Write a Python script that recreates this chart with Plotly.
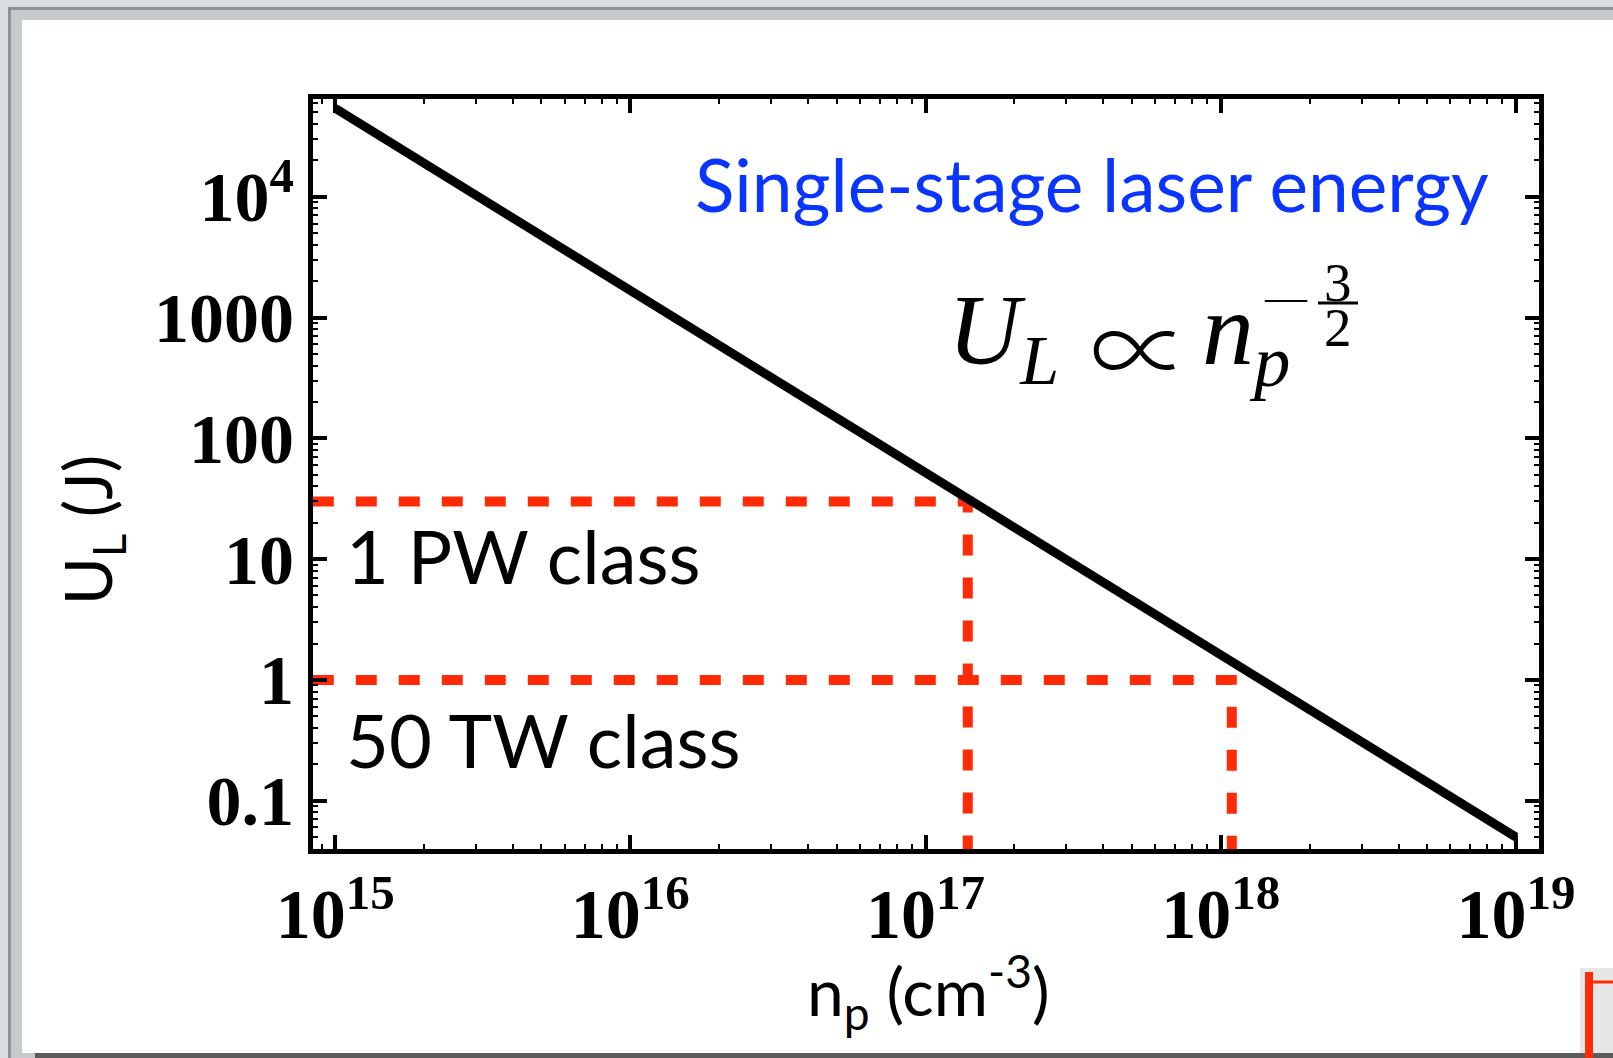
import plotly.graph_objects as go

# ---------------- data ----------------
n_p = [1e15, 1e19]                 # plasma density (cm^-3)
U_L = [5.4e4, 0.05]                # single-stage laser energy (J)

pw_x = [8.4e14, 1.39e17, 1.39e17]  # 1 PW class guide (30 J)
pw_y = [30, 30, 0.039]
tw_x = [8.4e14, 1.09e18, 1.09e18]  # 50 TW class guide (1 J)
tw_y = [1, 1, 0.039]

x_tickvals = [1e15, 1e16, 1e17, 1e18, 1e19]
x_ticktext = ["10<sup>15</sup>", "10<sup>16</sup>", "10<sup>17</sup>", "10<sup>18</sup>", "10<sup>19</sup>"]
y_tickvals = [0.1, 1, 10, 100, 1000, 1e4]
y_ticktext = ["0.1", "1", "10", "100", "1000", "10<sup>4</sup>"]

# ---------------- layout helpers ----------------
W, H = 1613, 1058
L, R, T, B = 313, 1539, 99, 849


def px(x):
    return (x - L) / (R - L)


def py(y):
    return (B - y) / (B - T)


minor_x = [float(m) * 10.0 ** e for e in range(14, 20) for m in range(2, 10)]
minor_y = [float(m) * 10.0 ** e for e in range(-2, 5) for m in range(2, 10)]

RED = "#ff2b06"

fig = go.Figure()
fig.add_trace(go.Scatter(x=pw_x, y=pw_y, mode="lines",
                         line=dict(color=RED, width=10, dash="21px,22px"),
                         hoverinfo="skip"))
fig.add_trace(go.Scatter(x=tw_x, y=tw_y, mode="lines",
                         line=dict(color=RED, width=10, dash="21px,22px"),
                         hoverinfo="skip"))
fig.add_trace(go.Scatter(x=n_p, y=U_L, mode="lines",
                         line=dict(color="black", width=9)))

axis_common = dict(
    showgrid=False, zeroline=False, showline=True, linewidth=5, linecolor="black",
    mirror="allticks", ticks="inside", ticklen=14, tickwidth=4, tickcolor="black",
    tickfont=dict(family="Liberation Serif", size=70, color="black", weight="bold"),
    tickmode="array",
)

fig.update_xaxes(type="log", range=[14.925, 19.078], tickvals=x_tickvals, ticktext=x_ticktext,
                 minor=dict(tickmode="array", tickvals=minor_x, ticks="inside", ticklen=5,
                            tickwidth=2, tickcolor="black", showgrid=False),
                 **axis_common)
fig.update_yaxes(type="log", range=[-1.400, 4.809], tickvals=y_tickvals, ticktext=y_ticktext,
                 minor=dict(tickmode="array", tickvals=minor_y, ticks="inside", ticklen=5,
                            tickwidth=2, tickcolor="black", showgrid=False),
                 **axis_common)

shapes = [
    # slide frame
    dict(type="rect", xref="paper", yref="paper", x0=px(8), x1=px(W + 5), y0=py(7), y1=py(H + 5),
         fillcolor="#8f9194", line=dict(width=0), layer="below"),
    dict(type="rect", xref="paper", yref="paper", x0=px(11), x1=px(W + 5), y0=py(10), y1=py(H + 5),
         fillcolor="#c7cacd", line=dict(width=0), layer="below"),
    dict(type="rect", xref="paper", yref="paper", x0=px(35), x1=px(W + 5), y0=py(1053), y1=py(H + 5),
         fillcolor="#5c5c5c", line=dict(width=0), layer="below"),
    dict(type="rect", xref="paper", yref="paper", x0=px(22), x1=px(W + 5), y0=py(20), y1=py(1053),
         fillcolor="white", line=dict(width=0), layer="below"),
    dict(type="rect", xref="paper", yref="paper", x0=px(1580), x1=px(W + 5), y0=py(968), y1=py(1053),
         fillcolor="#e6e6e6", line=dict(width=0), layer="below"),
    dict(type="line", xref="paper", yref="paper", x0=px(1589), x1=px(1589), y0=py(972), y1=py(H + 5),
         line=dict(color=RED, width=8)),
    dict(type="line", xref="paper", yref="paper", x0=px(1590), x1=px(W + 5), y0=py(982), y1=py(982),
         line=dict(color=RED, width=3)),
    # fraction bar of the exponent
    dict(type="line", xref="paper", yref="paper", x0=px(1318), x1=px(1358), y0=py(303), y1=py(303),
         line=dict(color="black", width=3)),
]

SANS = "Lato"
SERIF = "Liberation Serif"
annotations = [
    dict(text="Single-stage laser energy", x=px(1491), y=py(184), xanchor="right", yanchor="middle",
         font=dict(family=SANS, size=73, color="#0a34ff")),
    dict(text="1 PW class", x=px(344), y=py(555), xanchor="left", yanchor="middle",
         font=dict(family=SANS, size=74, color="black")),
    dict(text="50 TW class", x=px(344), y=py(739), xanchor="left", yanchor="middle",
         font=dict(family=SANS, size=74, color="black")),
    # U_L  ∝  n_p^(-3/2)
    dict(text="<i>U</i><sub><i>L</i></sub>", x=px(946), y=py(336),
         xanchor="left", yanchor="middle", font=dict(family=SERIF, size=100, color="black")),
    dict(text="∝", x=px(1140), y=py(344), xanchor="center", yanchor="middle",
         font=dict(family="Noto Sans CJK JP", size=100, color="black", weight=300)),
    dict(text="<i>n</i><sub><i>p</i></sub>", x=px(1200), y=py(336),
         xanchor="left", yanchor="middle", font=dict(family=SERIF, size=104, color="black")),
    dict(text="—", x=px(1286), y=py(297), xanchor="center", yanchor="middle",
         font=dict(family=SERIF, size=42, color="black")),
    dict(text="3", x=px(1338), y=py(282), xanchor="center", yanchor="middle",
         font=dict(family=SERIF, size=55, color="black")),
    dict(text="2", x=px(1338), y=py(327), xanchor="center", yanchor="middle",
         font=dict(family=SERIF, size=55, color="black")),
    # axis titles
    dict(text="U<sub>L</sub> (J)", x=px(92), y=py(530), xanchor="center", yanchor="middle",
         textangle=-90, font=dict(family=SANS, size=65, color="black")),
    dict(text="n<sub>p</sub> (cm<sup>-3</sup>)", x=px(928), y=py(991), xanchor="center", yanchor="middle",
         font=dict(family=SANS, size=66, color="black")),
]
for a in annotations:
    a.update(xref="paper", yref="paper", showarrow=False)

fig.update_layout(
    width=W, height=H,
    margin=dict(l=L, r=W - R, t=T, b=H - B, pad=0),
    paper_bgcolor="#dadde1", plot_bgcolor="white",
    showlegend=False,
    shapes=shapes, annotations=annotations,
)

fig.write_html("out.html")
